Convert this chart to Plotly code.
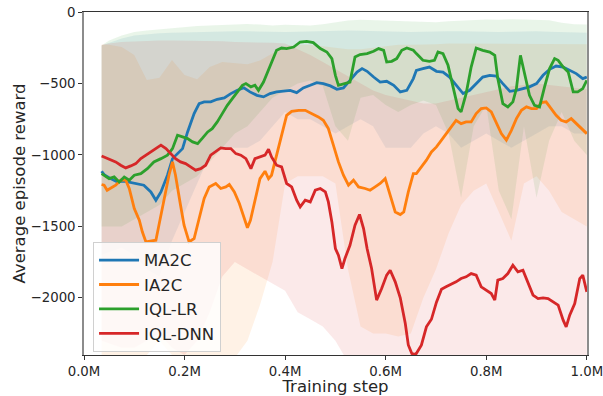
import plotly.graph_objects as go

# ---- mean curves (training step in thousands, average episode reward) ----
ma2c_k = [35, 40, 53, 66, 80, 93, 106, 119, 133, 143, 153, 166, 176, 186, 196, 206, 219, 229, 239, 252,
          265, 279, 292, 305, 318, 330, 344, 357, 370, 383, 397, 410, 423, 436, 450, 463, 476, 490, 503, 516,
          529, 543, 553, 563, 576, 589, 602, 616, 629, 642, 655, 661, 674, 687, 701, 714, 727, 740, 754, 767,
          780, 793, 807, 820, 833, 847, 860, 873, 886, 900, 913, 926, 939, 953, 966, 979, 992, 1000]
ma2c = [-1114, -1138, -1166, -1189, -1184, -1193, -1200, -1212, -1259, -1317, -1259, -1142, -1026, -991, -956,
        -839, -711, -641, -629, -629, -611, -601, -571, -548, -530, -559, -583, -594, -571, -559, -555, -548,
        -564, -531, -513, -494, -501, -517, -541, -531, -478, -420, -396, -415, -455, -490, -485, -513, -559,
        -548, -466, -408, -396, -385, -415, -420, -455, -513, -571, -548, -501, -455, -443, -448, -501, -555,
        -548, -536, -524, -501, -443, -401, -378, -385, -408, -431, -466, -455]

ia2c_k = [35, 40, 46, 53, 63, 73, 83, 90, 100, 110, 116, 123, 133, 143, 149, 159, 169, 176, 182, 192, 199,
          209, 219, 229, 239, 249, 262, 272, 282, 289, 299, 309, 318, 325, 331, 340, 350, 360, 367, 373, 383,
          393, 403, 413, 427, 440, 453, 466, 476, 486, 496, 506, 516, 526, 536, 546, 559, 569, 579, 589, 599,
          609, 619, 629, 636, 645, 655, 661, 671, 681, 691, 701, 711, 720, 730, 740, 750, 760, 770, 780, 790,
          800, 810, 820, 830, 840, 850, 860, 870, 880, 890, 900, 910, 919, 929, 939, 949, 959, 969, 979, 989,
          1000]
ia2c = [-1207, -1212, -1247, -1235, -1212, -1177, -1177, -1235, -1375, -1457, -1538, -1608, -1604, -1597,
        -1492, -1305, -1142, -1049, -1142, -1352, -1492, -1608, -1585, -1445, -1305, -1224, -1200, -1235,
        -1224, -1207, -1259, -1340, -1445, -1510, -1457, -1329, -1166, -1114, -1166, -1142, -1002, -862,
        -723, -695, -688, -688, -711, -734, -758, -816, -932, -1049, -1142, -1212, -1177, -1224, -1235,
        -1247, -1224, -1200, -1166, -1282, -1399, -1417, -1399, -1259, -1131, -1131, -1084, -1037, -979,
        -944, -897, -851, -804, -758, -781, -769, -769, -711, -676, -671, -699, -781, -851, -897, -828,
        -746, -688, -664, -676, -676, -634, -629, -676, -723, -758, -769, -746, -781, -816, -851]

iql_lr_k = [35, 40, 50, 60, 70, 80, 90, 100, 113, 126, 139, 153, 166, 176, 186, 196, 206, 216, 226, 236, 246,
            255, 265, 275, 285, 295, 305, 315, 322, 332, 340, 347, 357, 370, 383, 393, 403, 417, 430, 443, 456,
            470, 483, 493, 500, 506, 516, 529, 539, 549, 563, 576, 586, 596, 602, 612, 622, 632, 642, 655, 661,
            674, 687, 697, 704, 714, 724, 734, 744, 750, 760, 770, 780, 793, 807, 817, 823, 833, 843, 853, 860,
            868, 876, 886, 896, 906, 916, 926, 936, 943, 953, 963, 973, 982, 992, 1000]
iql_lr = [-1131, -1142, -1166, -1154, -1189, -1154, -1177, -1142, -1131, -1096, -1049, -1026, -1002, -956,
          -862, -874, -886, -909, -921, -881, -839, -816, -769, -711, -653, -606, -559, -513, -501, -524, -513,
          -548, -490, -373, -268, -252, -256, -245, -210, -205, -214, -256, -280, -326, -443, -513, -501, -490,
          -315, -298, -291, -275, -256, -268, -350, -345, -326, -268, -252, -268, -291, -338, -345, -338, -280,
          -291, -373, -524, -676, -699, -571, -385, -252, -268, -280, -303, -466, -641, -664, -629, -536, -303,
          -420, -583, -653, -664, -524, -396, -326, -338, -385, -420, -559, -559, -536, -478]

iql_dnn_k = [35, 40, 46, 53, 63, 73, 83, 93, 103, 113, 123, 133, 143, 153, 163, 173, 182, 192, 202, 212, 222,
             232, 242, 252, 262, 272, 282, 292, 302, 312, 322, 332, 340, 350, 360, 367, 373, 383, 393, 403, 413,
             423, 430, 440, 450, 460, 470, 480, 486, 493, 500, 506, 513, 519, 529, 539, 548, 556, 563, 572, 582,
             592, 602, 609, 619, 629, 639, 645, 652, 660, 671, 681, 691, 701, 711, 720, 730, 740, 750, 760, 770,
             780, 790, 800, 810, 817, 823, 833, 843, 853, 863, 873, 883, 893, 903, 913, 923, 933, 943, 953, 959,
             966, 976, 986, 992, 1000]
iql_dnn = [-1007, -1014, -1026, -1037, -1049, -1072, -1091, -1077, -1061, -1026, -1002, -979, -956, -932, -956,
           -991, -1026, -1049, -1061, -1084, -1107, -1096, -1072, -1002, -979, -951, -956, -956, -991, -1002,
           -1026, -1096, -1026, -1014, -1002, -960, -1014, -1072, -1084, -1200, -1224, -1317, -1364, -1317, -1329,
           -1247, -1235, -1259, -1329, -1469, -1655, -1702, -1795, -1725, -1632, -1492, -1417, -1515, -1655,
           -1795, -2016, -1935, -1841, -1807, -1888, -2000, -2180, -2330, -2390, -2395, -2331, -2203, -2150,
           -2030, -1940, -1923, -1907, -1888, -1865, -1853, -1830, -1841, -1923, -1946, -1970, -2016, -1876,
           -1865, -1830, -1772, -1818, -1807, -1888, -1981, -2005, -2000, -2005, -2028, -2051, -2156, -2203,
           -2121, -2040, -1865, -1841, -1958]

# ---- spread bands on a common 25k grid ----
band_k = [35, 50, 75, 100, 125, 150, 175, 200, 225, 250, 275, 300, 325, 350, 375, 400, 425, 450, 475, 500,
          525, 550, 575, 600, 625, 650, 675, 700, 725, 750, 775, 800, 825, 850, 875, 900, 925, 950, 975, 1000]

ma2c_hi = [-235, -215, -185, -165, -155, -148, -145, -142, -140, -138, -136, -135, -135, -138, -142, -140,
           -138, -135, -132, -130, -130, -132, -135, -138, -140, -140, -138, -135, -135, -135, -138, -140,
           -140, -138, -135, -135, -138, -140, -142, -145]
ma2c_lo = [-1700, -1680, -1650, -1700, -1800, -1850, -1600, -1400, -1200, -1000, -950, -950, -950, -900, -800,
           -700, -750, -750, -800, -850, -800, -750, -800, -950, -950, -950, -850, -800, -850, -950, -900,
           -850, -900, -950, -900, -850, -800, -800, -850, -850]

ia2c_hi = [-230, -230, -245, -300, -475, -460, -335, -440, -470, -384, -350, -360, -365, -340, -290, -240,
           -230, -230, -240, -250, -260, -260, -250, -240, -230, -230, -230, -225, -220, -220, -220, -220,
           -220, -220, -220, -220, -220, -220, -220, -225]
ia2c_lo = [-2450, -2450, -2450, -2450, -2400, -2300, -2400, -2450, -2450, -2450, -2450, -2420, -2300, -2050,
           -1750, -1200, -1150, -1150, -1150, -1200, -1800, -2200, -2250, -2250, -2270, -2250, -2000, -1800,
           -1550, -1350, -1250, -1200, -1400, -1600, -1200, -1150, -1250, -1400, -1450, -1500]

iql_lr_hi = [-235, -200, -165, -140, -130, -122, -115, -105, -98, -95, -92, -88, -84, -88, -95, -90, -92, -95,
             -85, -70, -60, -55, -58, -62, -60, -65, -70, -72, -65, -60, -55, -52, -55, -50, -52, -55, -58,
             -75, -85, -88]
iql_lr_lo = [-1500, -1500, -1500, -1450, -1400, -1350, -1250, -1200, -1150, -1050, -950, -850, -800, -700,
             -600, -550, -500, -480, -520, -800, -900, -600, -580, -650, -700, -650, -620, -650, -850, -1300,
             -800, -650, -1250, -1450, -800, -1300, -900, -700, -900, -1000]

iql_dnn_hi = [-230, -220, -210, -205, -200, -200, -200, -200, -200, -200, -205, -210, -210, -210, -215, -220,
              -260, -300, -350, -400, -450, -500, -550, -580, -600, -620, -640, -640, -620, -600, -580, -560,
              -540, -520, -510, -500, -510, -520, -530, -540]
iql_dnn_lo = [-2300, -2320, -2350, -2350, -2300, -2250, -2350, -2400, -2300, -2100, -1850, -1750, -1800, -1850,
              -1900, -1950, -2100, -2150, -2200, -2300, -2450, -2450, -2450, -2450, -2450, -2450, -2450, -2450,
              -2450, -2450, -2450, -2450, -2450, -2450, -2450, -2450, -2450, -2450, -2450, -2450]

x_ticks = [0, 200, 400, 600, 800, 1000]
x_tick_text = ["0.0M", "0.2M", "0.4M", "0.6M", "0.8M", "1.0M"]
y_ticks = [0, -500, -1000, -1500, -2000]
y_tick_text = ["0", "\u2212500", "\u22121000", "\u22121500", "\u22122000"]

series = [
    ("MA2C", (31, 119, 180), ma2c_k, ma2c, ma2c_hi, ma2c_lo),
    ("IA2C", (255, 127, 14), ia2c_k, ia2c, ia2c_hi, ia2c_lo),
    ("IQL-LR", (44, 160, 44), iql_lr_k, iql_lr, iql_lr_hi, iql_lr_lo),
    ("IQL-DNN", (214, 39, 40), iql_dnn_k, iql_dnn, iql_dnn_hi, iql_dnn_lo),
]

fig = go.Figure()

band_x = [k * 1000 for k in band_k]
for name, (r, g, b), _, _, hi, lo in series:
    fig.add_trace(go.Scatter(
        x=band_x + band_x[::-1], y=hi + lo[::-1],
        fill="toself", fillcolor=f"rgba({r},{g},{b},0.1)",
        line=dict(width=0), mode="lines", hoverinfo="skip", showlegend=False))

for name, (r, g, b), ks, vals, _, _ in series:
    fig.add_trace(go.Scatter(
        x=[k * 1000 for k in ks], y=vals, mode="lines", name=name, legendgroup=name,
        line=dict(color=f"rgb({r},{g},{b})", width=2.8)))

font_family = "DejaVu Sans"
fig.update_layout(
    width=603, height=396,
    margin=dict(l=84, r=16, t=12, b=41),
    paper_bgcolor="white", plot_bgcolor="white",
    font=dict(family=font_family, color="#262626"),
    showlegend=True,
    legend=dict(
        x=0.018, y=0.33, xanchor="left", yanchor="top",
        bgcolor="rgba(255,255,255,0.8)", bordercolor="#d0d0d0", borderwidth=1,
        font=dict(size=16.5, family=font_family, color="#262626"),
        itemwidth=40, tracegroupgap=3, traceorder="normal"),
    xaxis=dict(
        range=[0, 1_000_400], tickvals=[t * 1000 for t in x_ticks], ticktext=x_tick_text,
        ticks="outside", ticklen=4, tickwidth=1, tickcolor="#333333",
        showline=True, linecolor="#333333", linewidth=1.2, mirror=True,
        showgrid=False, zeroline=False, tickfont=dict(size=13.3),
        ticklabeloverflow="allow",
        title=dict(text="Training step", font=dict(size=16.5), standoff=4),
        automargin=False),
    yaxis=dict(
        range=[-2400, 0], tickvals=y_ticks, ticktext=y_tick_text,
        ticks="outside", ticklen=4, tickwidth=1, tickcolor="#333333",
        showline=True, linecolor="#8c8c8c", linewidth=1.5, mirror=True,
        showgrid=False, zeroline=False, tickfont=dict(size=13.3),
        title=dict(text="Average episode reward", font=dict(size=16.5), standoff=1),
        automargin=False),
)

fig.write_html("out.html")
